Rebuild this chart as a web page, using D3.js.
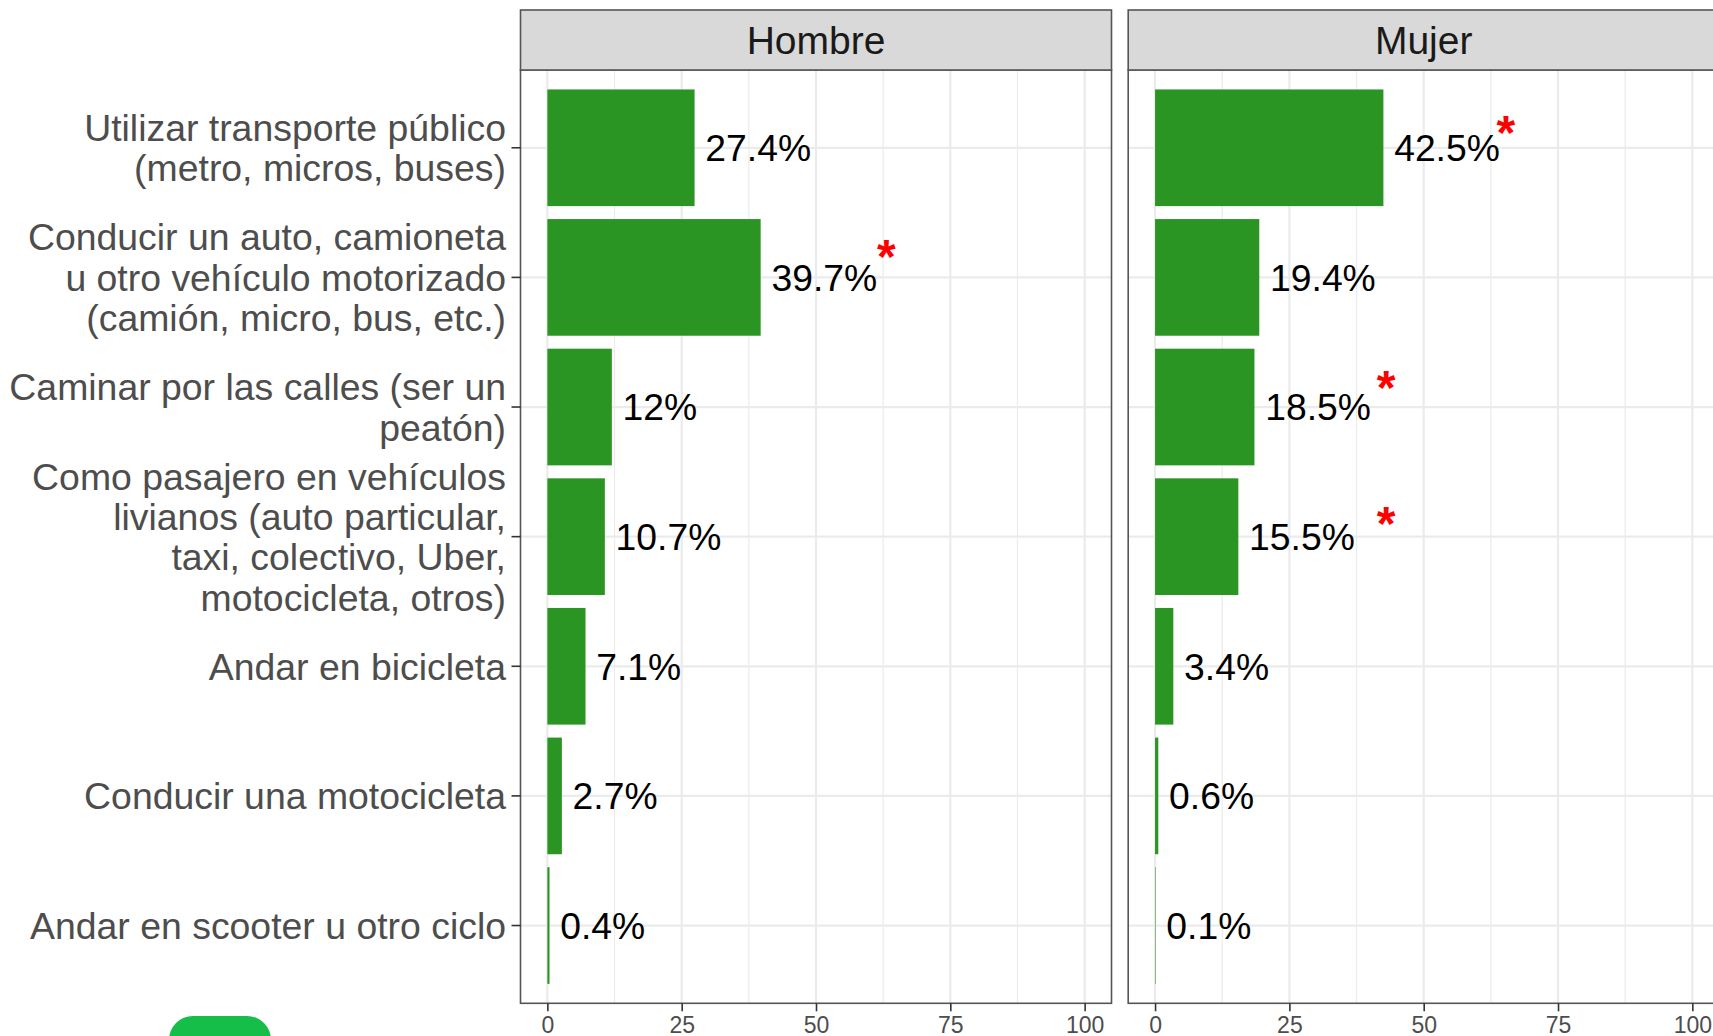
<!DOCTYPE html>
<html>
<head>
<meta charset="utf-8">
<script src="https://cdn.jsdelivr.net/npm/d3@7"></script>
<style>
  body { margin: 0; background: #fff; }
  svg { display: block; font-family: "Liberation Sans", Arial, sans-serif; }
</style>
</head>
<body>
<div id="chart"></div>
<script>
// categories (top to bottom), "\n" marks a line break in the axis label
var categories = [
    "Utilizar transporte público\n(metro, micros, buses)",
    "Conducir un auto, camioneta\nu otro vehículo motorizado\n(camión, micro, bus, etc.)",
    "Caminar por las calles (ser un\npeatón)",
    "Como pasajero en vehículos\nlivianos (auto particular,\ntaxi, colectivo, Uber,\nmotocicleta, otros)",
    "Andar en bicicleta",
    "Conducir una motocicleta",
    "Andar en scooter u otro ciclo"
];
var panels = ["Hombre", "Mujer"];
var hombre = [27.4, 39.7, 12, 10.7, 7.1, 2.7, 0.4];
var mujer  = [42.5, 19.4, 18.5, 15.5, 3.4, 0.6, 0.1];
// significance marks: category index, x value, vertical shift in category units
var hombreStars = [{cat: 1, x: 63.1, dy: -0.19}];
var mujerStars  = [{cat: 0, x: 65.3, dy: -0.15}, {cat: 2, x: 43.0, dy: -0.18}, {cat: 3, x: 43.0, dy: -0.13}];
var xTicks = [0, 25, 50, 75, 100];
var xMinor = [12.5, 37.5, 62.5, 87.5];

var svgWidth = 1713, svgHeight = 1036;
var panelTop = 70, panelBottom = 1003.3, stripTop = 10;
var panelW = 591, panelLefts = [520.5, 1128.2];
var green = "#2B9523";

var svg = d3.select("#chart")
    .append("svg")
    .attr("width", svgWidth)
    .attr("height", svgHeight);

var yScale = d3.scaleBand()
    .domain(d3.range(categories.length))
    .range([panelTop, panelBottom])
    .paddingInner(0.1)
    .paddingOuter(0.15);

var xScale = d3.scaleLinear()
    .domain([-5, 105])
    .range([0, panelW]);

var series = [hombre, mujer];
var stars = [hombreStars, mujerStars];

panels.forEach(function(name, p){
    var g = svg.append("g")
        .attr("transform", `translate(${panelLefts[p]},0)`);

    // grid
    g.append("g").selectAll("line")
        .data(xMinor).enter().append("line")
        .attr("x1", d => xScale(d)).attr("x2", d => xScale(d))
        .attr("y1", panelTop).attr("y2", panelBottom)
        .attr("stroke", "#EBEBEB").attr("stroke-width", 1.2);
    g.append("g").selectAll("line")
        .data(xTicks).enter().append("line")
        .attr("x1", d => xScale(d)).attr("x2", d => xScale(d))
        .attr("y1", panelTop).attr("y2", panelBottom)
        .attr("stroke", "#EBEBEB").attr("stroke-width", 2.2);
    g.append("g").selectAll("line")
        .data(categories).enter().append("line")
        .attr("x1", 0).attr("x2", panelW)
        .attr("y1", (d, i) => yScale(i) + yScale.bandwidth() / 2)
        .attr("y2", (d, i) => yScale(i) + yScale.bandwidth() / 2)
        .attr("stroke", "#EBEBEB").attr("stroke-width", 2.2);

    // bars
    g.append("g").selectAll("rect")
        .data(series[p]).enter().append("rect")
        .attr("x", xScale(0))
        .attr("y", (d, i) => yScale(i))
        .attr("width", d => xScale(d) - xScale(0))
        .attr("height", yScale.bandwidth())
        .attr("fill", green);

    // value labels
    g.append("g").selectAll("text")
        .data(series[p]).enter().append("text")
        .attr("x", d => xScale(d + 2))
        .attr("y", (d, i) => yScale(i) + yScale.bandwidth() / 2)
        .attr("dy", "0.36em")
        .attr("font-size", 37.3)
        .attr("fill", "#000")
        .text(d => d + "%");

    // asterisks
    g.append("g").selectAll("text")
        .data(stars[p]).enter().append("text")
        .attr("x", d => xScale(d.x))
        .attr("y", d => yScale(d.cat) + yScale.bandwidth() / 2 + d.dy * yScale.step())
        .attr("dy", "0.43em")
        .attr("text-anchor", "middle")
        .attr("font-size", 48)
        .attr("font-weight", "bold")
        .attr("fill", "#FF0000")
        .text("*");

    // panel border
    g.append("rect")
        .attr("x", 0).attr("y", panelTop)
        .attr("width", panelW).attr("height", panelBottom - panelTop)
        .attr("fill", "none").attr("stroke", "#555").attr("stroke-width", 1.6);

    // strip
    g.append("rect")
        .attr("x", 0).attr("y", stripTop)
        .attr("width", panelW).attr("height", panelTop - stripTop)
        .attr("fill", "#D9D9D9").attr("stroke", "#555").attr("stroke-width", 1.6);
    g.append("text")
        .attr("x", panelW / 2)
        .attr("y", (stripTop + panelTop) / 2)
        .attr("dy", "0.36em")
        .attr("text-anchor", "middle")
        .attr("font-size", 39)
        .attr("fill", "#1A1A1A")
        .text(name);

    // x axis
    var xAxis = d3.axisBottom(xScale)
        .tickValues(xTicks)
        .tickSize(8)
        .tickPadding(5);
    var ax = g.append("g")
        .attr("transform", `translate(0,${panelBottom})`)
        .call(xAxis);
    ax.select(".domain").remove();
    ax.selectAll(".tick line").attr("stroke", "#333").attr("stroke-width", 1.6);
    ax.selectAll(".tick text")
        .attr("font-size", 23)
        .attr("font-family", "Liberation Sans, Arial, sans-serif")
        .attr("fill", "#4D4D4D");
});

// y axis with multi-line labels
var yAxis = d3.axisLeft(yScale)
    .tickSize(9)
    .tickPadding(9)
    .tickFormat(i => categories[i]);
var yg = svg.append("g")
    .attr("transform", `translate(${panelLefts[0]},0)`)
    .call(yAxis);
yg.select(".domain").remove();
yg.selectAll(".tick line").attr("stroke", "#333").attr("stroke-width", 1.6);
var lineH = 40.4;
yg.selectAll(".tick text")
    .attr("font-size", 37.4)
    .attr("font-family", "Liberation Sans, Arial, sans-serif")
    .attr("fill", "#4D4D4D")
    .each(function(i){
        var t = d3.select(this);
        var lines = categories[i].split("\n");
        t.text(null).attr("dy", null);
        lines.forEach(function(l, k){
            t.append("tspan")
                .attr("x", -14.5)
                .attr("y", (k - (lines.length - 1) / 2) * lineH)
                .attr("dy", "0.36em")
                .text(l);
        });
    });

// green badge partly visible at the bottom left
svg.append("rect")
    .attr("x", 169).attr("y", 1016)
    .attr("width", 102).attr("height", 60)
    .attr("rx", 24)
    .attr("fill", "#14BE48");
</script>
</body>
</html>
